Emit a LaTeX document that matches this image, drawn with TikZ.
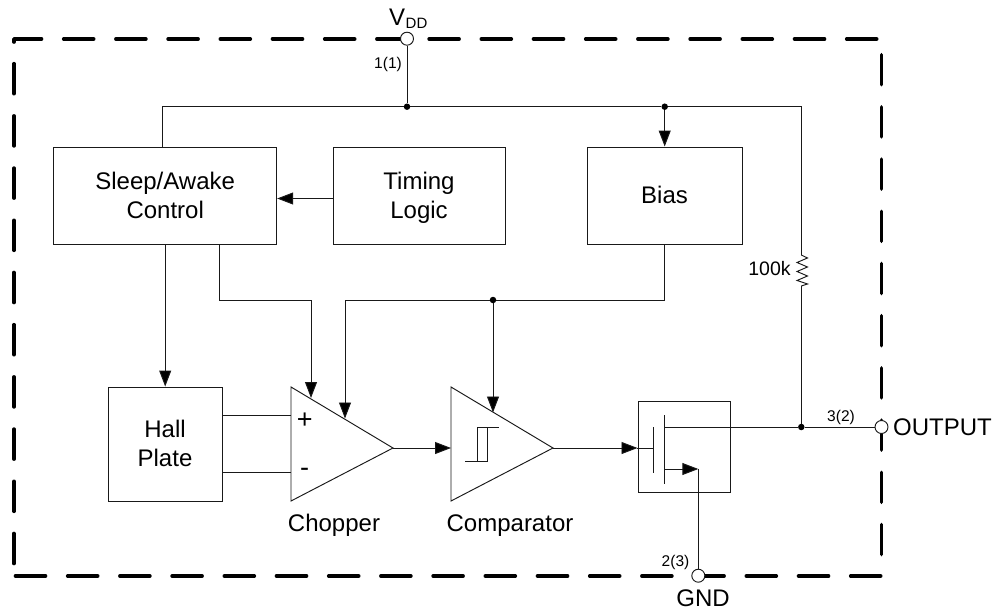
\documentclass[tikz,border=0pt]{standalone}
\usepackage{fontspec}
\setmainfont{Liberation Sans}
\usetikzlibrary{arrows.meta,calc}
\newcommand{\fsz}[1]{\fontsize{#1}{#1}\selectfont}
\newcommand{\blstrut}{\rule{0pt}{22.5pt}\rule[-6.5pt]{0pt}{6.5pt}}
\tikzset{
  x=1pt,y=-1pt,
  wire/.style={line width=0.95pt,draw=black!90},
  arr/.style={wire,-{Triangle[length=16pt,width=12pt,fill=black]}},
  block/.style={draw=black!90,line width=0.95pt,fill=white,inner sep=0pt,align=center,font=\fsz{24},execute at begin node={\setlength{\baselineskip}{29pt}}},
  jn/.style={circle,fill=black,inner sep=0pt,minimum size=6.5pt},
  pin/.style={circle,draw=black!90,line width=0.95pt,fill=white,inner sep=0pt,minimum size=13pt},
  border/.style={line width=3.6pt,line cap=round,dash pattern=on 30pt off 22.2pt},
  lab/.style={inner sep=0pt,font=\fsz{24},anchor=base},
  small/.style={inner sep=0pt,font=\fsz{15.5},anchor=base},
  amp/.style={draw=black!90,line width=0.95pt,fill=white,line join=miter}
}
\begin{document}
\begin{tikzpicture}
\useasboundingbox (0,0) rectangle (995,610);
% boundary
\draw[border] (15.5,576) -- (881.5,576);
\draw[border] (881.5,54.7) -- (881.5,557);
\draw[border] (14,63.7) -- (14,565);
\draw[border] (63.7,39) -- (880,39);
\draw[line width=3.6pt,line cap=round,line join=round] (14,42) -- (14,39) -- (41.5,39);
% blocks
\node[block,minimum width=223pt,minimum height=97pt] (sleep) at (165.2,195.5) {\blstrut Sleep/Awake\\\blstrut Control};
\node[block,minimum width=172pt,minimum height=97pt] (timing) at (419,195.5) {\blstrut Timing\\\blstrut Logic};
\node[block,minimum width=155pt,minimum height=97pt] (bias) at (664.5,195.5) {\blstrut Bias};
\node[block,minimum width=114pt,minimum height=114pt] (hall) at (165,444) {\blstrut Hall\\\blstrut Plate};
\node[block,minimum width=92pt,minimum height=91.5pt] (fet) at (684.3,447) {};
% amplifiers
\coordinate (ca) at (291,387); \coordinate (cb) at (291,501); \coordinate (cc) at (393,448);
\coordinate (da) at (451,387); \coordinate (db) at (451,501); \coordinate (dc) at (553,448);
\coordinate (cplus) at (291,415.3); \coordinate (cminus) at (291,472.7);
\draw[wire] (hall.east |- cplus) -- (cplus);
\draw[wire] (hall.east |- cminus) -- (cminus);
\draw[amp] (ca) -- (cc) -- (cb) -- cycle;
\draw[amp] (da) -- (dc) -- (db) -- cycle;
\node[inner sep=0pt,font=\fsz{27}] (plus) at (304.7,420.7) {+};
\node[inner sep=0pt,font=\fsz{27}] (minus) at (304.5,472) {-};
\draw[wire] (465,461) -- (487,461) -- (487,427) -- (499,427) (477,461) -- (477,427) -- (487,427);
% junctions and pins
\node[pin] (vdd) at (407,38.7) {};
\node[pin] (out) at (881.5,427) {};
\node[pin] (gnd) at (698.3,575.7) {};
\node[jn] (j1) at (407,106.7) {};
\node[jn] (j2) at (664.7,106.7) {};
\node[jn] (j3) at (493,300) {};
\node[jn] (j4) at (801.3,427) {};
\coordinate (tl) at (162.5,106.7);
\coordinate (tr) at (801.3,106.7);
\coordinate (rtop) at (801.3,255);
\coordinate (rbot) at (801.3,286);
% power rail
\draw[wire] (vdd) -- (j1);
\draw[wire] (sleep.north -| tl) -- (tl) -- (j1) -- (j2) -- (tr) -- (rtop);
\draw[wire,line join=miter] (rtop) -- (807.5,258) -- (797,262.5) -- (807.5,267) -- (797,271.5) -- (807.5,276) -- (797,280.5) -- (807.5,284) -- (rbot);
\draw[wire] (rbot) -- (j4);
\draw[arr] (j2) -- (bias.north -| j2);
% signals
\draw[arr] (timing.west |- 0,198.5) -- (sleep.east |- 0,198.5);
\draw[arr] (sleep.south) -- (hall.north -| sleep.south);
\coordinate (sc1) at (219,300);
\coordinate (sc2) at (311,300);
\coordinate (ct) at (311,398);
\draw[arr] (sleep.south -| sc1) -- (sc1) -- (sc2) -- (ct);
\coordinate (b1) at (664.7,300);
\coordinate (b2) at (345,300);
\coordinate (ct2) at (345,418.5);
\draw[arr] (bias.south -| b1) -- (b1) -- (j3) -- (b2) -- (ct2);
\coordinate (dt) at (493,412.5);
\draw[arr] (j3) -- (dt);
\draw[arr] (cc) -- (da |- cc);
\coordinate (gi) at (653,448);
\draw[arr] (dc) -- (637.5,448);
\draw[wire] (637,448) -- (gi);
% FET
\coordinate (g1) at (653,427); \coordinate (g2) at (653,473);
\coordinate (ch1) at (664,415); \coordinate (ch2) at (664,484);
\coordinate (dr) at (664,427); \coordinate (sr) at (664,469); \coordinate (sr2) at (698.3,469);
\draw[wire] (g1) -- (g2);
\draw[wire] (ch1) -- (ch2);
\draw[wire] (dr) -- (j4) -- (out);
\draw[arr] (sr) -- (sr2);
\draw[wire] (sr2) -- (gnd);
% labels
\node[lab,anchor=base west] (vddl) at (389,26) {V\hspace{0.5pt}\raisebox{-3pt}{\fsz{15}DD}};
\node[small] (l1) at (388,68) {1(1)};
\node[small,font=\fsz{19.5}] (l100) at (769.5,275) {100k};
\node[small] (l3) at (841,421) {3(2)};
\node[small] (l2) at (675.5,566.5) {2(3)};
\node[lab,anchor=base west] (outl) at (893,435) {OUTPUT};
\node[lab] (gndl) at (703,606) {GND};
\node[lab] (chopl) at (334,531) {Chopper};
\node[lab] (compl) at (510,531) {Comparator};
\end{tikzpicture}
\end{document}
